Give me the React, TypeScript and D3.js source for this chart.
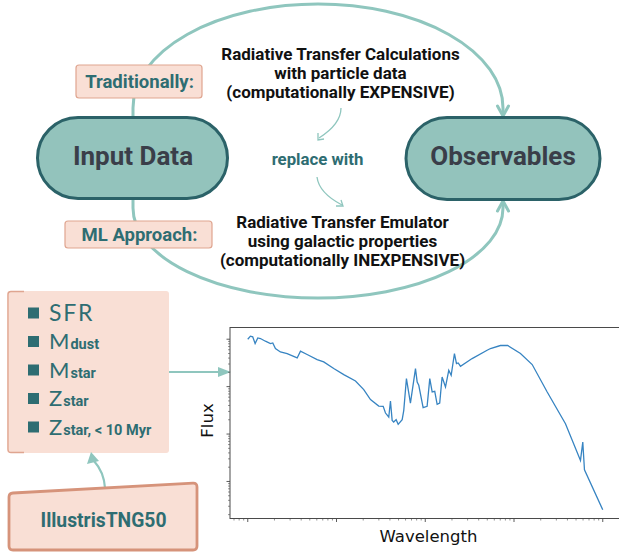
import React from "react";
import * as d3 from "d3";

// Spectrum (log10 units)
const logWavelength = [0.0, 0.03, 0.056, 0.083, 0.113, 0.143, 0.199, 0.256, 0.282, 0.312, 0.368, 0.444, 0.557, 0.594, 0.669, 0.782, 0.856, 0.969, 1.082, 1.214, 1.307, 1.383, 1.476, 1.526, 1.552, 1.589, 1.608, 1.627, 1.645, 1.672, 1.695, 1.74, 1.758, 1.788, 1.833, 1.89, 1.909, 1.927, 1.976, 2.021, 2.051, 2.078, 2.107, 2.134, 2.163, 2.19, 2.228, 2.265, 2.292, 2.329, 2.352, 2.371, 2.397, 2.528, 2.697, 2.735, 2.847, 2.93, 3.073, 3.205, 3.374, 3.58, 3.749, 3.775, 3.794, 4.0];
const logFlux = [3.0, 3.064, 3.049, 2.909, 3.028, 3.015, 2.958, 2.909, 2.922, 2.804, 2.732, 2.698, 2.605, 2.747, 2.677, 2.571, 2.521, 2.381, 2.254, 2.119, 1.937, 1.726, 1.591, 1.585, 1.443, 1.359, 1.697, 1.289, 1.253, 1.304, 1.204, 1.304, 1.5, 2.17, 1.654, 2.381, 2.098, 2.028, 1.557, 1.585, 2.17, 1.887, 1.902, 1.627, 1.654, 2.204, 1.992, 2.345, 2.24, 2.698, 2.487, 2.499, 2.43, 2.592, 2.768, 2.804, 2.867, 2.867, 2.698, 2.466, 1.887, 1.219, 0.444, 0.83, 0.247, -0.598];

const topLines = ["Radiative Transfer Calculations", "with particle data", "(computationally EXPENSIVE)"];
const bottomLines = ["Radiative Transfer Emulator", "using galactic properties", "(computationally INEXPENSIVE)"];
const features = [
  { main: "SFR", sub: "" },
  { main: "M", sub: "dust" },
  { main: "M", sub: "star" },
  { main: "Z", sub: "star" },
  { main: "Z", sub: "star, < 10 Myr" },
];

const TEAL_LINE = "#8fc6be";
const PILL_FILL = "#93c3bc";
const PILL_STROKE = "#2b6268";
const TEAL_TEXT = "#2e6d72";
const PEACH = "#f9dfd5";
const PEACH_STROKE = "#dfa590";
const DARK = "#3a3e49";
const FONT = "Roboto, 'Liberation Sans', sans-serif";

function chevron(x: number, y: number, dir: number, key: string) {
  // dir: 1 = pointing down, -1 = pointing up
  return (
    <path
      key={key}
      d={`M${x - 5.5},${y - dir * 10} L${x},${y} L${x + 5.5},${y - dir * 10}`}
      fill="none"
      stroke={TEAL_LINE}
      strokeWidth={3}
      strokeLinejoin="round"
      strokeLinecap="round"
    />
  );
}

export default function App() {
  // plot geometry
  const pl = 230, pr = 620.5, pt = 327.5, pb = 518.5;
  const x = d3.scaleLog().domain([Math.pow(10, -0.2), Math.pow(10, 4.2)]).range([pl, pr]);
  const y = d3.scaleLog().domain([Math.pow(10, -0.781), Math.pow(10, 3.247)]).range([pb, pt]);
  const pts: [number, number][] = logWavelength.map((w, i) => [Math.pow(10, w), Math.pow(10, logFlux[i])]);
  const line = d3.line<[number, number]>().x((d) => x(d[0])).y((d) => y(d[1]));

  const xTicks: { v: number; major: boolean }[] = [];
  for (let k = -1; k <= 4; k++) {
    for (let j = 1; j <= 9; j++) {
      const v = j * Math.pow(10, k);
      if (v >= x.domain()[0] && v <= x.domain()[1]) xTicks.push({ v, major: j === 1 });
    }
  }
  const yTicks: { v: number; major: boolean }[] = [];
  for (let k = -1; k <= 3; k++) {
    for (let j = 1; j <= 9; j++) {
      const v = j * Math.pow(10, k);
      if (v >= y.domain()[0] && v <= y.domain()[1]) yTicks.push({ v, major: j === 1 });
    }
  }

  return (
    <svg
      width={619}
      height={553}
      style={{ position: "absolute", left: 0, top: 0, background: "#fff" }}
      fontFamily={FONT}
    >
      {/* big arcs */}
      <path d="M133,117 L133,108 A185,104 0 0 1 503,108 L503,115" fill="none" stroke={TEAL_LINE} strokeWidth={3} />
      {chevron(503, 116, 1, "c1")}
      <path d="M133,199 L133,208 A185,90 0 0 0 503,208 L503,202" fill="none" stroke={TEAL_LINE} strokeWidth={3} />
      {chevron(503, 201, -1, "c2")}

      {/* labels on arcs */}
      <rect x={76} y={65} width={126} height={33} rx={3} fill={PEACH} stroke={PEACH_STROKE} strokeWidth={1.2} />
      <text x={139.5} y={87.5} textAnchor="middle" fontSize={18.5} fontWeight="bold" fill={TEAL_TEXT}>Traditionally:</text>
      <rect x={65} y={221} width={147} height={27} rx={3} fill={PEACH} stroke={PEACH_STROKE} strokeWidth={1.2} />
      <text x={139.5} y={240.5} textAnchor="middle" fontSize={18.5} fontWeight="bold" fill={TEAL_TEXT}>ML Approach:</text>

      {/* pills */}
      <rect x={37.5} y={117.5} width={190} height={81} rx={40.5} fill={PILL_FILL} stroke={PILL_STROKE} strokeWidth={3} />
      <text x={133} y={164.5} textAnchor="middle" fontSize={26} fontWeight="bold" fill={DARK}>Input Data</text>
      <rect x={406} y={117.5} width={194} height={82} rx={41} fill={PILL_FILL} stroke={PILL_STROKE} strokeWidth={3} />
      <text x={503} y={164.5} textAnchor="middle" fontSize={26} fontWeight="bold" fill={DARK}>Observables</text>

      {/* central texts */}
      {topLines.map((t, i) => (
        <text key={"t" + i} x={340.5} y={59.5 + i * 19} textAnchor="middle" fontSize={17} fontWeight="bold" fill="#111">{t}</text>
      ))}
      {bottomLines.map((t, i) => (
        <text key={"b" + i} x={342.5} y={227.5 + i * 19} textAnchor="middle" fontSize={17} fontWeight="bold" fill="#111">{t}</text>
      ))}
      <text x={317.5} y={164.5} textAnchor="middle" fontSize={16.8} fontWeight="bold" fill={TEAL_TEXT}>replace with</text>
      <path d="M341,108 Q341,124 319,138" fill="none" stroke={TEAL_LINE} strokeWidth={1.3} />
      <path d="M318,133 L318,140 L324,139" fill="none" stroke={TEAL_LINE} strokeWidth={1.3} />
      <path d="M317,177 Q319,193 342,205" fill="none" stroke={TEAL_LINE} strokeWidth={1.3} />
      <path d="M336,206 L343,206 L341,200" fill="none" stroke={TEAL_LINE} strokeWidth={1.3} />

      {/* features box */}
      <rect x={7} y={291} width={162} height={162} rx={3} fill={PEACH} />
      <path d="M24,291.5 L11,291.5 Q8,291.5 8,295 L8,449 Q8,452.5 11,452.5 L24,452.5" fill="none" stroke={PEACH_STROKE} strokeWidth={1.3} />
      {features.map((f, i) => {
        const cy = 313 + i * 28.5;
        return (
          <g key={"f" + i}>
            <rect x={28} y={cy - 5.5} width={11} height={11} fill={TEAL_TEXT} />
            <text
              x={49}
              y={cy + 7.5}
              fontFamily="Lato, sans-serif"
              fontSize={f.sub ? 22 : 23}
              letterSpacing={f.sub ? 0 : 1.8}
              fill={TEAL_TEXT}
            >
              {f.main}
              {f.sub ? (
                <tspan fontFamily={FONT} fontSize={14.5} fontWeight="bold" dx={1}>{f.sub}</tspan>
              ) : null}
            </text>
          </g>
        );
      })}

      {/* arrow to plot */}
      <line x1={169} y1={372} x2={219} y2={372} stroke={TEAL_LINE} strokeWidth={2} />
      <path d="M218,367 L231,372 L218,377 Z" fill={TEAL_LINE} />

      {/* IllustrisTNG50 */}
      <path d="M105,488 Q104,472 94,461" fill="none" stroke={TEAL_LINE} strokeWidth={2.2} />
      <path d="M87,464 L91,452 L99,461 Z" fill={TEAL_LINE} />
      <path
        d="M13,493 L193,483.2 Q197,483 197,487 L197,546 Q197,550 193,550 L13,550 Q9,550 9,546 L9,497 Q9,493.2 13,493 Z"
        fill={PEACH}
        stroke="#d6937a"
        strokeWidth={2.8}
      />
      <text x={103.5} y={526.5} textAnchor="middle" fontSize={19.3} fontWeight="bold" fill={TEAL_TEXT}>IllustrisTNG50</text>

      {/* plot */}
      <defs>
        <clipPath id="plotclip">
          <rect x={pl} y={pt} width={pr - pl} height={pb - pt} />
        </clipPath>
      </defs>
      <path d={line(pts) || ""} fill="none" stroke="#3784c2" strokeWidth={1.3} clipPath="url(#plotclip)" />
      <rect x={pl} y={pt} width={pr - pl} height={pb - pt} fill="none" stroke="#4a4a4a" strokeWidth={1} />
      {xTicks.map((t, i) => (
        <line key={"xt" + i} x1={x(t.v)} x2={x(t.v)} y1={pb} y2={pb + (t.major ? 3.5 : 2)} stroke="#4a4a4a" strokeWidth={t.major ? 0.9 : 0.6} />
      ))}
      {yTicks.map((t, i) => (
        <line key={"yt" + i} x1={pl} x2={pl - (t.major ? 3.5 : 2)} y1={y(t.v)} y2={y(t.v)} stroke="#4a4a4a" strokeWidth={t.major ? 0.9 : 0.6} />
      ))}
      <text x={428.5} y={542} textAnchor="middle" fontFamily="'DejaVu Sans', sans-serif" fontSize={16.5} fill="#111">Wavelength</text>
      <text transform="translate(212.5,420.5) rotate(-90)" textAnchor="middle" fontFamily="'DejaVu Sans', sans-serif" fontSize={16.5} fill="#111">Flux</text>
    </svg>
  );
}
